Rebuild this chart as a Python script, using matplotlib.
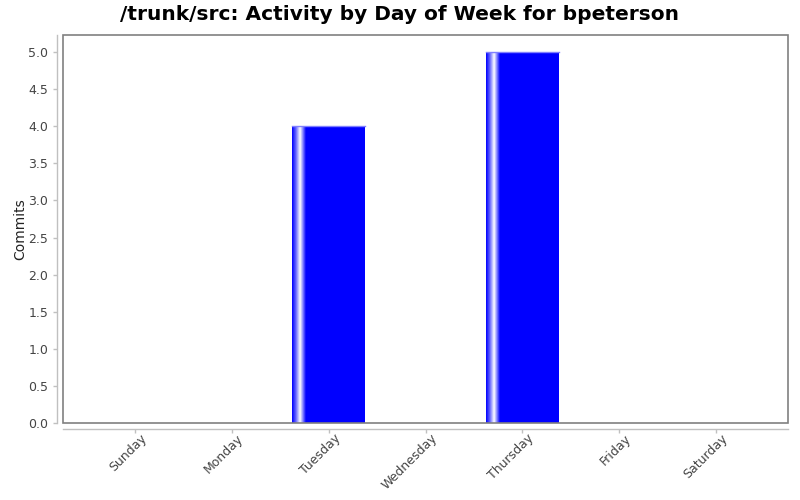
import numpy as np
import matplotlib

matplotlib.use("Agg")
import matplotlib.pyplot as plt
import matplotlib.transforms as mtransforms
from matplotlib.patches import Rectangle
from matplotlib.colors import LinearSegmentedColormap

days = ['Sunday', 'Monday', 'Tuesday', 'Wednesday', 'Thursday', 'Friday', 'Saturday']
commits = [0, 0, 4, 0, 5, 0, 0]
yticks = [0.0, 0.5, 1.0, 1.5, 2.0, 2.5, 3.0, 3.5, 4.0, 4.5, 5.0]

fig = plt.figure(figsize=(8, 5), dpi=100)
ax = fig.add_axes([63 / 800, 77 / 500, 725 / 800, 388 / 500])

x = np.arange(len(days))
bars = ax.bar(x, commits, width=0.75, color='#0000ff', edgecolor='none', zorder=2)

# shiny gradient on the left part of each bar (jfreechart look)
shine = LinearSegmentedColormap.from_list(
    'shine', [(0, '#0000ff'), (0.05, '#6060ff'), (0.11, '#ffffff'),
              (0.19, '#0000ff'), (1.0, '#0000ff')])
grad = np.linspace(0, 1, 256).reshape(1, -1)
for b in bars:
    if b.get_height() <= 0:
        continue
    x0 = b.get_x()
    im = ax.imshow(grad, cmap=shine, aspect='auto', zorder=3,
                   extent=(x0, x0 + b.get_width(), 0, b.get_height()))
    im.set_clip_path(b)
    # faint highlight along the top edge
    ax.plot([x0, x0 + b.get_width()], [b.get_height()] * 2, color='#8080ff',
            linewidth=1, zorder=4)

ax.set_xlim(-0.744, 6.744)
ax.set_ylim(0, 5.23)

for s in ax.spines.values():
    s.set_visible(False)
ax.add_patch(Rectangle((0, 0), 1, 1, transform=ax.transAxes, fill=False,
                       edgecolor='#808080', linewidth=1.2, zorder=5, clip_on=False))
for side in ['left', 'bottom']:
    ax.spines[side].set_visible(True)
    ax.spines[side].set_position(('outward', 4))
    ax.spines[side].set_color('#c0c0c0')
    ax.spines[side].set_linewidth(1.0)

ax.set_yticks(yticks)
ax.set_yticklabels([f'{v:.1f}' for v in yticks])
ax.set_xticks(x)
ax.set_xticklabels(days, rotation=45, ha='right', rotation_mode='anchor')
ax.tick_params(axis='both', colors='#c0c0c0', labelcolor='#444444',
               labelsize=9, length=3, width=1)
ax.tick_params(axis='x', pad=2)
offset = mtransforms.ScaledTranslation(0.05, 0.04, fig.dpi_scale_trans)
for lbl in ax.get_xticklabels():
    lbl.set_transform(lbl.get_transform() + offset)

ax.set_ylabel('Commits', fontsize=10, color='#222222', labelpad=1)
fig.suptitle('/trunk/src: Activity by Day of Week for bpeterson',
             fontsize=14.5, fontweight='bold', x=0.5, y=0.99)

fig.savefig('out.png', dpi=100)
